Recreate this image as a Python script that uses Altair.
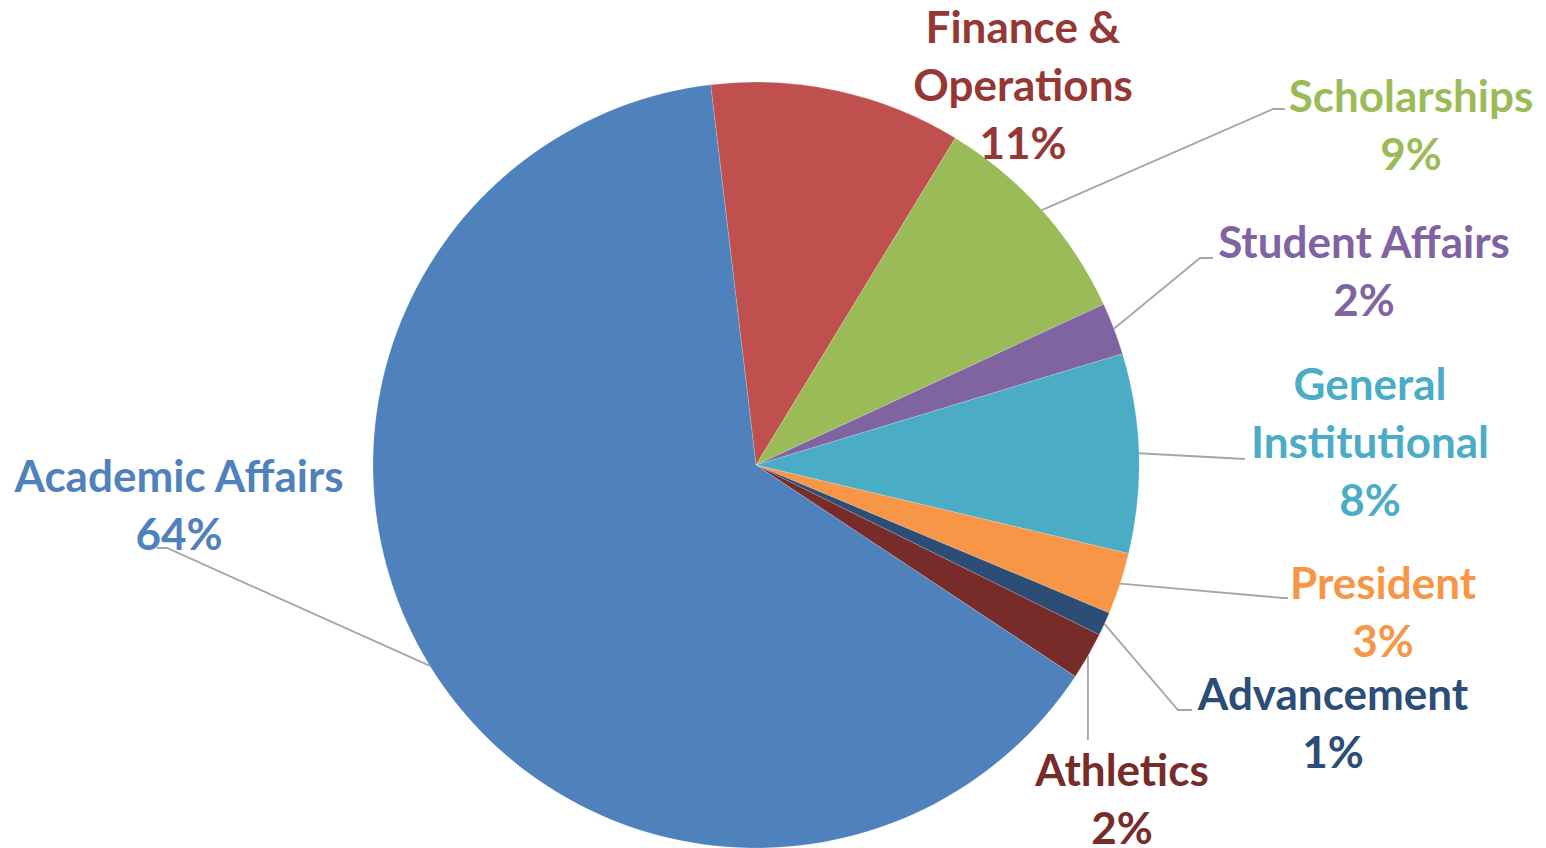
import math
import altair as alt
import pandas as pd

# ---- data ----
categories = ["Finance & Operations", "Scholarships", "Student Affairs", "General Institutional",
              "President", "Advancement", "Athletics", "Academic Affairs"]
label_text = ["Finance &\nOperations", "Scholarships", "Student Affairs", "General\nInstitutional",
              "President", "Advancement", "Athletics", "Academic Affairs"]
values = [10.6, 9.4, 2.2, 8.4, 2.6, 1.0, 2.0, 63.8]
slice_colors = ["#C0504D", "#9BBB59", "#8064A2", "#4BACC6", "#F79646", "#2C4D75", "#772C2A", "#4F81BD"]
text_colors = ["#953735", "#9BBB59", "#8064A2", "#4BACC6", "#F79646", "#2C4D75", "#772C2A", "#4F81BD"]

# ---- layout ----
W, H = 1530, 840
CX, CY, R = 748, 457, 383
START_DEG = -6.8
LINE_H = 58
label_center = {
    "Finance & Operations": (1015, 80),
    "Scholarships": (1403, 120),
    "Student Affairs": (1356, 266),
    "General Institutional": (1362, 437),
    "President": (1375, 607),
    "Advancement": (1325, 718),
    "Athletics": (1114, 794),
    "Academic Affairs": (171, 500),
}
leader_elbows = {
    "Scholarships": [(1265, 101), (1277, 101)],
    "Student Affairs": [(1192, 250), (1205, 250)],
    "General Institutional": [(1237, 451)],
    "President": [(1275, 590), (1280, 590)],
    "Advancement": [(1170, 702), (1184, 702)],
    "Athletics": [(None, 732)],
    "Academic Affairs": [(159, 540), (149, 540)],
}

total = sum(values)
start = math.radians(START_DEG)

pie_df = pd.DataFrame({
    "category": categories,
    "value": values,
    "idx": list(range(len(categories))),
    "color": slice_colors,
})

# labels (first line placed so the whole block is centred on its anchor)
lab_rows = []
for c, t, v, col in zip(categories, label_text, values, text_colors):
    pct = f"{round(v / total * 100):d}%"
    full = t + "\n" + pct
    n = full.count("\n") + 1
    x, y = label_center[c]
    lab_rows.append({"category": c, "text": full, "x": x, "y": y - (n - 1) * LINE_H / 2, "color": col})
lab_df = pd.DataFrame(lab_rows)

# leader lines from the slice edge at the slice's mid angle
line_rows = []
cum = 0.0
for c, v in zip(categories, values):
    mid = start + (cum + v / 2) / total * 2 * math.pi
    cum += v
    if c not in leader_elbows:
        continue
    ex = CX + R * math.sin(mid)
    ey = CY - R * math.cos(mid)
    pts = [(ex, ey)] + [((ex if px is None else px), py) for px, py in leader_elbows[c]]
    for k, (px, py) in enumerate(pts):
        line_rows.append({"category": c, "k": k, "x": px, "y": py})
line_df = pd.DataFrame(line_rows)

xs = alt.Scale(domain=[0, W], range=[0, W], nice=False, zero=False)
ys = alt.Scale(domain=[0, H], range=[0, H], nice=False, zero=False)

pie = alt.Chart(pie_df).mark_arc(radius=R, stroke="#ffffff", strokeWidth=0.5, strokeOpacity=0.35).encode(
    theta=alt.Theta("value:Q", stack=True, scale=alt.Scale(range=[start, start + 2 * math.pi])),
    color=alt.Color("color:N", scale=None, legend=None),
    order=alt.Order("idx:Q"),
    x=alt.value(CX),
    y=alt.value(CY),
)

lines = alt.Chart(line_df).mark_line(color="#A6A6A6", strokeWidth=1.8).encode(
    x=alt.X("x:Q", scale=xs, axis=None),
    y=alt.Y("y:Q", scale=ys, axis=None),
    detail="category:N",
    order="k:Q",
)

labels = alt.Chart(lab_df).mark_text(
    font="Lato", fontWeight="bold", fontSize=44, lineBreak="\n", lineHeight=LINE_H,
    align="center", baseline="middle",
).encode(
    x=alt.X("x:Q", scale=xs, axis=None),
    y=alt.Y("y:Q", scale=ys, axis=None),
    text="text:N",
    color=alt.Color("color:N", scale=None, legend=None),
)

chart = alt.layer(pie, lines, labels).properties(
    width=W, height=H, padding=0, autosize=alt.AutoSizeParams(type="none")
).configure_view(stroke=None)

chart.save("out.html", embed_options={"renderer": "svg", "actions": False})
